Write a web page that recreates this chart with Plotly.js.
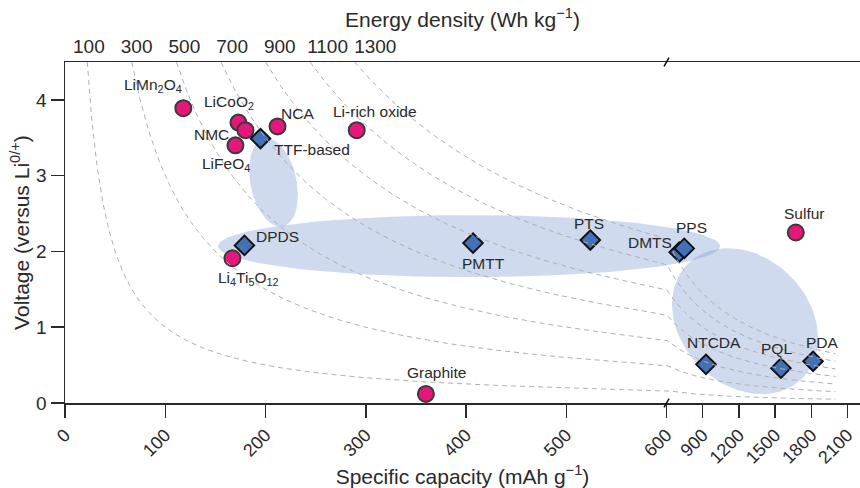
<!DOCTYPE html>
<html><head><meta charset="utf-8">
<script src="https://cdn.plot.ly/plotly-3.0.1.min.js"></script>
<style>html,body{margin:0;padding:0;background:#fff}#chart{width:860px;height:488px}</style>
</head><body><div id="chart"></div>
<script>
// ---------- data ----------
const inorganicNames = ['LiMn<sub>2</sub>O<sub>4</sub>','LiCoO<sub>2</sub>','NMC','LiFeO<sub>4</sub>','NCA','Li-rich oxide','Li<sub>4</sub>Ti<sub>5</sub>O<sub>12</sub>','Graphite','Sulfur'];
const inorganicCapacity = [118, 173, 180, 170, 212, 291, 167, 360, 1671];
const inorganicVoltage  = [3.89, 3.70, 3.60, 3.40, 3.65, 3.60, 1.91, 0.12, 2.25];

const organicNames = ['TTF-based','DPDS','PMTT','PTS','DMTS','PPS','NTCDA','PQL','PDA'];
const organicCapacity = [195, 179, 407, 524, 705, 747, 927, 1548, 1814];
const organicVoltage  = [3.49, 2.08, 2.11, 2.15, 1.99, 2.04, 0.51, 0.46, 0.55];

const energyDensities = [100, 300, 500, 700, 900, 1100, 1300];
const capacityTicksLinear = [0, 100, 200, 300, 400, 500, 600];
const capacityTicksCompressed = [900, 1200, 1500, 1800, 2100];
const voltageTicks = [0, 1, 2, 3, 4];

// ---------- layout constants ----------
const W = 860, H = 488, M = {l:65, r:0, t:62, b:85};
const BREAK = 600, K = 0.1204;           // compression above the axis break
const X_MAX = 793, Y_MAX = 4.5;
const pxX = (W - M.l - M.r) / X_MAX;
const pxY = (H - M.t - M.b) / Y_MAX;
const tx = c => c <= BREAK ? c : BREAK + (c - BREAK) * K;

// label placement (pixel offsets from the mark)
const labelPos = {
  'LiMn<sub>2</sub>O<sub>4</sub>': [-30,-23,'center'],
  'LiCoO<sub>2</sub>': [-9,-20,'center'],
  'NMC': [-14,4,'right'],
  'LiFeO<sub>4</sub>': [-9,19,'center'],
  'NCA': [20,-13,'center'],
  'Li-rich oxide': [18,-19,'center'],
  'Li<sub>4</sub>Ti<sub>5</sub>O<sub>12</sub>': [16,20,'center'],
  'Graphite': [11,-21,'center'],
  'Sulfur': [9,-19,'center'],
  'TTF-based': [12,11,'left'],
  'DPDS': [10,-9,'left'],
  'PMTT': [10,20,'center'],
  'PTS': [-1,-17,'center'],
  'DMTS': [-5,-10,'right'],
  'PPS': [7,-21,'center'],
  'NTCDA': [8,-22,'center'],
  'PQL': [-4,-20,'center'],
  'PDA': [9,-19,'center']
};

// highlight regions: centre (capacity, voltage), semi-axes in px, rotation in deg
const regions = [
  {c:208, v:2.91, a:45, b:23, rot:78},
  {c:403, v:2.07, a:251, b:31, rot:0},
  {c:1250, v:1.08, a:81, b:64, rot:45}
];

function ellipse(r){
  const cx = tx(r.c), xs=[], ys=[], th = r.rot*Math.PI/180;
  for(let i=0;i<=120;i++){
    const t = i/120*2*Math.PI;
    const sx = r.a*Math.cos(t)*Math.cos(th) - r.b*Math.sin(t)*Math.sin(th);
    const sy = r.a*Math.cos(t)*Math.sin(th) + r.b*Math.sin(t)*Math.cos(th);
    xs.push(cx + sx/pxX); ys.push(r.v - sy/pxY);
  }
  return {xs, ys};
}

const traces = [];
// iso-energy curves
energyDensities.forEach(E => {
  const xs=[], ys=[];
  const c0 = E / Y_MAX;
  for(let i=0;i<=400;i++){
    const c = c0 * Math.pow(2000/c0, i/400);
    xs.push(tx(c)); ys.push(E/c);
  }
  traces.push({type:'scatter', mode:'lines', x:xs, y:ys, xaxis:'x2', yaxis:'y',
    line:{color:'#b0b0b0', width:1, dash:'5px,4px'}, hoverinfo:'skip', showlegend:false});
});
// highlight regions
regions.forEach(r => {
  const e = ellipse(r);
  traces.push({type:'scatter', mode:'lines', x:e.xs, y:e.ys, fill:'toself',
    fillcolor:'rgba(120,150,205,0.35)', line:{width:0}, hoverinfo:'skip', showlegend:false});
});
traces.push({type:'scatter', mode:'markers', name:'Inorganic',
  x:inorganicCapacity.map(tx), y:inorganicVoltage, cliponaxis:false,
  marker:{symbol:'circle', size:16, color:'#E6177B', line:{color:'#3a3a3a', width:2}}, showlegend:false});
traces.push({type:'scatter', mode:'markers', name:'Organic',
  x:organicCapacity.map(tx), y:organicVoltage, cliponaxis:false,
  marker:{symbol:'diamond', size:15, color:'#4470B5', line:{color:'#111', width:2}}, showlegend:false});

const font = {family:'Liberation Sans, Arial, Helvetica, sans-serif', color:'#2a2a2a'};
const annotations = [];
function addLabels(names, caps, volts){
  names.forEach((n,i) => {
    const p = labelPos[n];
    annotations.push({x:tx(caps[i]), y:volts[i], xref:'x', yref:'y', text:n, showarrow:false,
      xanchor:p[2], yanchor:'middle', xshift:p[0], yshift:-p[1],
      font:Object.assign({}, font, {size:15.5})});
  });
}
addLabels(inorganicNames, inorganicCapacity, inorganicVoltage);
addLabels(organicNames, organicCapacity, organicVoltage);

const xTickVals = capacityTicksLinear.concat(capacityTicksCompressed).map(tx);
const xTickText = capacityTicksLinear.concat(capacityTicksCompressed).map(String);

const layout = {
  width:W, height:H, margin:M, paper_bgcolor:'#fff', plot_bgcolor:'rgba(0,0,0,0)',
  font:font, showlegend:false,
  xaxis:{range:[0,X_MAX], tickvals:xTickVals, ticktext:xTickText, tickangle:-45,
    ticks:'outside', ticklen:13, tickwidth:1.5, tickcolor:'#2a2a2a',
    showline:true, linecolor:'#2a2a2a', linewidth:1.5, showgrid:false, zeroline:false,
    tickfont:Object.assign({}, font, {size:18}),
    title:{text:'Specific capacity (mAh g<sup>−1</sup>)', font:Object.assign({}, font, {size:21}), standoff:2}},
  xaxis2:{overlaying:'x', side:'top', anchor:'y', range:[0,X_MAX],
    tickvals:energyDensities.map(E => tx(E/4.2)), ticktext:energyDensities.map(String),
    ticks:'', showline:true, linecolor:'#2a2a2a', linewidth:1.5, showgrid:false, zeroline:false,
    tickfont:Object.assign({}, font, {size:19}),
    title:{text:'Energy density (Wh kg<sup>−1</sup>)', font:Object.assign({}, font, {size:21}), standoff:2}},
  yaxis:{range:[0,Y_MAX], tickvals:voltageTicks, ticks:'outside', ticklen:13, tickwidth:1.5, tickcolor:'#2a2a2a',
    showline:true, linecolor:'#2a2a2a', linewidth:1.5, showgrid:false, zeroline:false,
    tickfont:Object.assign({}, font, {size:19}),
    title:{text:'Voltage (versus Li<sup>0/+</sup>)', font:Object.assign({}, font, {size:21}), standoff:1}},
  shapes:[
    {type:'line', xref:'x', yref:'paper', x0:BREAK-2.5, x1:BREAK+2.5, y0:-0.013, y1:0.013, line:{color:'#111', width:1.5}},
    {type:'line', xref:'x', yref:'paper', x0:BREAK-2.5, x1:BREAK+2.5, y0:0.987, y1:1.013, line:{color:'#111', width:1.5}}
  ],
  annotations:annotations
};

Plotly.newPlot('chart', traces, layout, {displayModeBar:false, staticPlot:true});
</script>
</body></html>
